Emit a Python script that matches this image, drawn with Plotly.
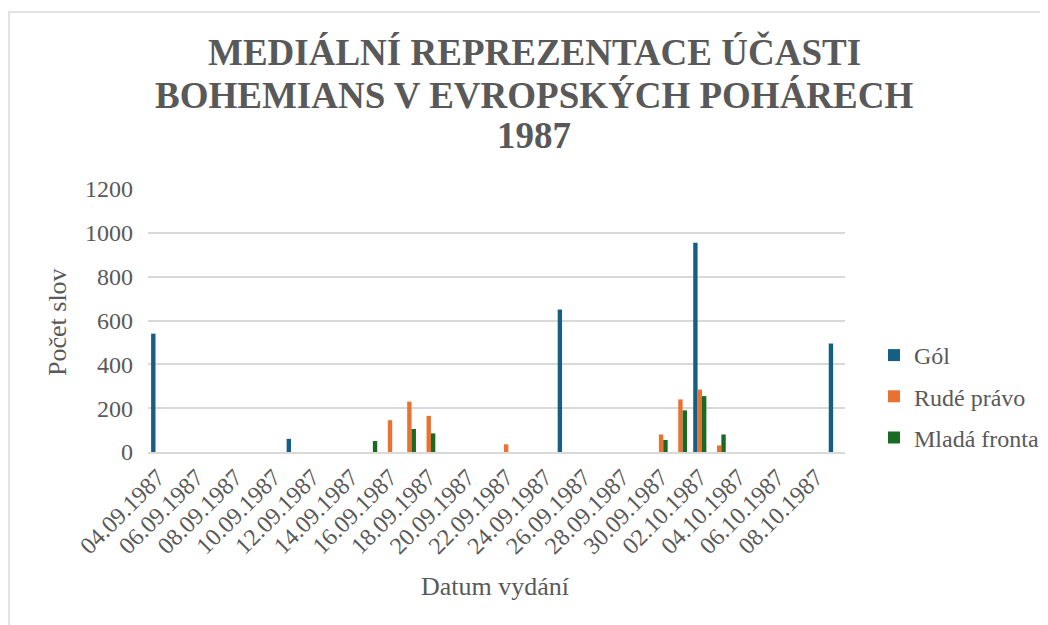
import plotly.graph_objects as go

# ---- data ----
gol_dates = ["1987-09-04", "1987-09-11", "1987-09-25", "1987-10-02", "1987-10-09"]
gol_values = [540, 60, 650, 955, 495]

rp_dates = ["1987-09-16", "1987-09-17", "1987-09-18", "1987-09-22",
            "1987-09-30", "1987-10-01", "1987-10-02", "1987-10-03"]
rp_values = [145, 230, 165, 35, 80, 240, 285, 30]

mf_dates = ["1987-09-15", "1987-09-17", "1987-09-18",
            "1987-09-30", "1987-10-01", "1987-10-02", "1987-10-03"]
mf_values = [50, 105, 85, 55, 190, 255, 80]

series_names = ["Gól", "Rudé právo", "Mladá fronta"]
colors = ["#156082", "#E97132", "#196B24"]

title_lines = ["MEDIÁLNÍ REPREZENTACE ÚČASTI",
               "BOHEMIANS V EVROPSKÝCH POHÁRECH",
               "1987"]
y_ticks = [0, 200, 400, 600, 800, 1000, 1200]

FONT = "Liberation Serif, serif"
GREY = "#595959"

fig = go.Figure()
for i, (d, v) in enumerate([(gol_dates, gol_values), (rp_dates, rp_values), (mf_dates, mf_values)]):
    fig.add_trace(go.Bar(x=d, y=v, name=series_names[i], marker_color=colors[i],
                         marker_line_width=0, legendgroup=f"g{i}"))

# page has an 8px body margin: reference pixel p maps to figure pixel p-8
OFF = 8
W, H = 1048 - OFF, 625 - OFF
L, R, T, B = 148 - OFF, 203, 189 - OFF, 173
PW = W - L - R
PH = H - T - B

def px(p):
    return (p - OFF - L) / PW

def py(p):
    return (H - B - (p - OFF)) / PH

annotations = []
for line, cy in zip(title_lines, [52, 95, 136]):
    annotations.append(dict(text=f"<b>{line}</b>", x=px(534), xref="paper",
                            y=py(cy), yref="paper", xanchor="center", yanchor="middle",
                            showarrow=False, font=dict(family=FONT, size=37, color=GREY)))
annotations.append(dict(text="Počet slov", x=px(57), xref="paper",
                        y=py(322), yref="paper", xanchor="center", yanchor="middle",
                        textangle=-90, showarrow=False,
                        font=dict(family=FONT, size=26, color=GREY)))
annotations.append(dict(text="Datum vydání", x=px(495), xref="paper",
                        y=py(586), yref="paper", xanchor="center", yanchor="middle",
                        showarrow=False, font=dict(family=FONT, size=26, color=GREY)))

fig.update_layout(
    width=W, height=H,
    margin=dict(l=L, r=R, t=T, b=B, autoexpand=False),
    paper_bgcolor="white", plot_bgcolor="white",
    barmode="group", bargap=0.32,
    font=dict(family=FONT, color=GREY, size=24),
    annotations=annotations,
    legend=dict(x=px(874), xanchor="left", y=py(333), yanchor="top",
                traceorder="grouped", tracegroupgap=7,
                font=dict(family=FONT, size=24, color=GREY), bgcolor="rgba(0,0,0,0)"),
    xaxis=dict(type="date", range=["1987-09-03 12:00", "1987-10-09 12:00"],
               tick0="1987-09-04", dtick=2 * 86400000, tickformat="%d.%m.%Y",
               tickangle=-45, showgrid=False, showline=True, linecolor="#D9D9D9",
               linewidth=1.5, ticks="", tickfont=dict(family=FONT, size=24, color=GREY)),
    yaxis=dict(range=[0, 1200], tickvals=y_ticks, showgrid=True, gridcolor="#D9D9D9",
               gridwidth=1.5, zeroline=False, showline=False, ticks="",
               ticklabelstandoff=14, tickfont=dict(family=FONT, size=24, color=GREY)),
    shapes=[dict(type="rect", xref="paper", yref="paper",
                 x0=px(9), x1=1.35, y0=-0.8, y1=py(12),
                 line=dict(color="#D9D9D9", width=1.5), fillcolor="rgba(0,0,0,0)", layer="below")],
)

fig.write_html("out.html")
